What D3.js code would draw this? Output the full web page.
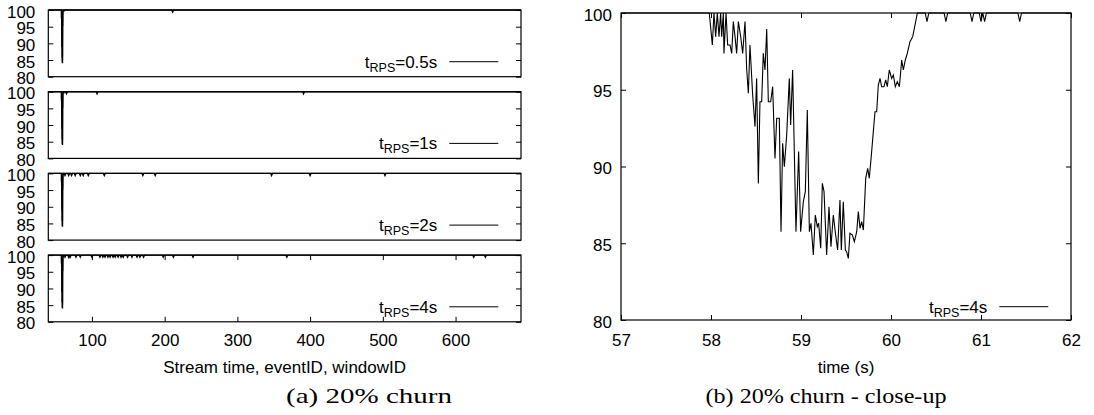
<!DOCTYPE html>
<html><head><meta charset="utf-8">
<script src="https://cdn.jsdelivr.net/npm/d3@7"></script>
<style>
html,body{margin:0;padding:0;background:#fff;}
svg{display:block;}
</style></head>
<body>
<svg id="chart" width="1094" height="415"></svg>
<script>
// ---------- data ----------
// close-up series (t_RPS = 4s): time (s) and availability (%)
const closeTime = [57.00, 57.981, 58.015, 58.033, 58.052, 58.070, 58.089, 58.107, 58.119, 58.137, 58.144, 58.167, 58.185, 58.211, 58.230, 58.248, 58.267, 58.285, 58.304, 58.330, 58.352, 58.378, 58.396, 58.415, 58.433, 58.463, 58.489, 58.507, 58.526, 58.544, 58.563, 58.581, 58.600, 58.619, 58.637, 58.663, 58.685, 58.711, 58.730, 58.759, 58.778, 58.796, 58.815, 58.841, 58.870, 58.885, 58.907, 58.944, 58.974, 58.996, 59.026, 59.048, 59.070, 59.093, 59.111, 59.137, 59.159, 59.181, 59.196, 59.219, 59.237, 59.256, 59.285, 59.311, 59.333, 59.359, 59.385, 59.407, 59.433, 59.448, 59.470, 59.493, 59.507, 59.526, 59.544, 59.570, 59.593, 59.619, 59.637, 59.656, 59.674, 59.693, 59.719, 59.741, 59.759, 59.785, 59.822, 59.841, 59.859, 59.878, 59.896, 59.922, 59.941, 59.959, 59.981, 60.007, 60.026, 60.048, 60.070, 60.093, 60.119, 60.137, 60.159, 60.181, 60.211, 60.241, 60.267, 60.293, 60.38, 60.40, 60.42, 60.59, 60.61, 60.63, 60.88, 60.90, 60.92, 60.98, 61.00, 61.02, 61.04, 61.06, 61.41, 61.43, 61.45, 62.00];
const closeRate = [100, 100, 97.92, 100, 98.46, 100, 98.46, 100, 98.46, 100, 97.37, 100, 97.92, 97.92, 97.37, 99.44, 98.46, 97.37, 99.44, 98.46, 97.37, 99.44, 96.4, 94.77, 97.92, 94.66, 92.6, 95.74, 88.9, 94.22, 94.22, 97.37, 96.29, 98.96, 94.22, 94.22, 95.2, 90.53, 93.14, 93.14, 85.75, 91.51, 89.99, 92.05, 95.74, 92.7, 96.29, 85.75, 90.97, 85.75, 87.71, 88.36, 93.68, 85.75, 86.3, 84.23, 86.84, 86.08, 86.3, 84.67, 88.9, 88.36, 84.23, 87.38, 84.78, 86.84, 85.54, 84.56, 87.82, 84.56, 87.71, 84.56, 84.45, 84.01, 85.65, 85.54, 85.1, 85.75, 87.06, 85.97, 86.41, 85.86, 89.23, 89.88, 89.23, 90.97, 93.57, 93.57, 95.31, 95.74, 95.2, 95.2, 95.64, 95.2, 96.29, 95.74, 95.96, 95.2, 95.53, 95.2, 96.94, 96.29, 96.94, 97.37, 98.13, 98.46, 99.22, 100, 100, 99.44, 100, 100, 99.44, 100, 100, 99.44, 100, 100, 99.44, 100, 99.44, 100, 100, 99.44, 100, 100];

// full-stream panels: labels and positions of short dips at the top
const panelLabels = ["0.5s", "1s", "2s", "4s"];
const dips05 = [211];
const dips1 = [65, 107, 391];
const dips2 = [63, 68, 72, 77, 84, 88, 95, 117, 170, 187, 347, 400, 503];
const dips4 = [63, 68, 70, 78, 84, 100, 111, 115, 118, 122, 125, 129, 132, 136, 140, 143, 149, 155, 162, 166, 171, 198, 212, 239, 368, 625, 641];
const dipRate = 99.4;
const streamStart = 40, streamEnd = 690;

const yTickVals = [80, 85, 90, 95, 100];
const xTickValsLeft = [100, 200, 300, 400, 500, 600];
const xTickValsRight = [57, 58, 59, 60, 61, 62];

// ---------- layout ----------
const svg = d3.select("#chart");
const SANS = "'Liberation Sans', Arial, Helvetica, sans-serif";
const SERIF = "'Liberation Serif', 'Times New Roman', serif";
const FS = 17;

const L = {left: 48.3, right: 521, tops: [10, 91.7, 173.4, 255.1], h: 66.7};
const R = {left: 621, right: 1071, top: 13, bottom: 320};

const xL = d3.scaleLinear().domain([streamStart, streamEnd]).range([L.left, L.right]);
const xR = d3.scaleLinear().domain([57, 62]).range([R.left, R.right]);

const line = (x, y) => d3.line().x(d => x(d[0])).y(d => y(d[1]));

function styleAxis(g) {
  g.select(".domain").remove();
  g.selectAll("line").attr("stroke", "#000").attr("stroke-width", 1);
  g.selectAll("text").attr("font-family", SANS).attr("font-size", FS).attr("fill", "#000");
}

function legend(g, xRight, yLine, label) {
  const t = g.append("text")
    .attr("x", xRight - 22.7 - 49 - 12).attr("y", yLine + 6)
    .attr("text-anchor", "end")
    .attr("font-family", SANS).attr("font-size", FS).attr("fill", "#000");
  t.append("tspan").text("t");
  t.append("tspan").attr("font-size", 12.5).attr("dy", 4).text("RPS");
  t.append("tspan").attr("dy", -4).text("=" + label);
  g.append("line")
    .attr("x1", xRight - 22.7 - 49).attr("x2", xRight - 22.7)
    .attr("y1", yLine).attr("y2", yLine)
    .attr("stroke", "#000").attr("stroke-width", 1);
}

// ---------- left: four stacked panels ----------
const dipSets = [dips05, dips1, dips2, dips4];
const closePts = closeTime.map((t, i) => [t, closeRate[i]]);

dipSets.forEach((dips, i) => {
  const top = L.tops[i];
  const y = d3.scaleLinear().domain([80, 100]).range([top + L.h, top]);
  const g = svg.append("g");

  let pts = [[streamStart, 100]].concat(closePts);
  dips.forEach(d => { pts.push([d - 1.2, 100], [d, dipRate], [d + 1.2, 100]); });
  pts.push([streamEnd, 100]);
  pts.sort((a, b) => a[0] - b[0]);

  const ya = g.append("g").attr("transform", `translate(${L.left},0)`)
    .call(d3.axisLeft(y).tickValues(yTickVals).tickSize(-5).tickPadding(13));
  styleAxis(ya);
  ya.selectAll("text").attr("dy", "0.42em");
  const yb = g.append("g").attr("transform", `translate(${L.right},0)`)
    .call(d3.axisRight(y).tickValues(yTickVals).tickSize(-5).tickFormat(""));
  styleAxis(yb);

  if (i === 3) {
    const xa = g.append("g").attr("transform", `translate(0,${top + L.h})`)
      .call(d3.axisBottom(xL).tickValues(xTickValsLeft).tickSize(-5).tickPadding(12));
    styleAxis(xa);
    const xb = g.append("g").attr("transform", `translate(0,${top})`)
      .call(d3.axisTop(xL).tickValues(xTickValsLeft).tickSize(-5).tickFormat(""));
    styleAxis(xb);
  }

  g.append("path").datum(pts)
    .attr("d", line(xL, y))
    .attr("fill", "none").attr("stroke", "#000").attr("stroke-width", 1.4);

  g.append("rect")
    .attr("x", L.left).attr("y", top).attr("width", L.right - L.left).attr("height", L.h)
    .attr("fill", "none").attr("stroke", "#000").attr("stroke-width", 1.2);

  legend(g, L.right, top + L.h - 15, panelLabels[i]);
});

svg.append("text")
  .attr("x", (L.left + L.right) / 2).attr("y", 373)
  .attr("text-anchor", "middle")
  .attr("font-family", SANS).attr("font-size", FS)
  .text("Stream time, eventID, windowID");

svg.append("text")
  .attr("x", 369).attr("y", 403)
  .attr("text-anchor", "middle")
  .attr("font-family", SERIF).attr("font-size", 22)
  .attr("textLength", 166).attr("lengthAdjust", "spacingAndGlyphs")
  .text("(a) 20% churn");

// ---------- right: close-up ----------
const yR = d3.scaleLinear().domain([80, 100]).range([R.bottom, R.top]);
const gR = svg.append("g");
const yRa = gR.append("g").attr("transform", `translate(${R.left},0)`)
  .call(d3.axisLeft(yR).tickValues(yTickVals).tickSize(-5).tickPadding(9));
styleAxis(yRa);
yRa.selectAll("text").attr("dy", "0.42em");
const yRb = gR.append("g").attr("transform", `translate(${R.right},0)`)
  .call(d3.axisRight(yR).tickValues(yTickVals).tickSize(-5).tickFormat(""));
styleAxis(yRb);
const xRa = gR.append("g").attr("transform", `translate(0,${R.bottom})`)
  .call(d3.axisBottom(xR).tickValues(xTickValsRight).tickFormat(d3.format("d")).tickSize(-5).tickPadding(14));
styleAxis(xRa);
const xRb = gR.append("g").attr("transform", `translate(0,${R.top})`)
  .call(d3.axisTop(xR).tickValues(xTickValsRight).tickSize(-5).tickFormat(""));
styleAxis(xRb);

gR.append("path").datum(closePts)
  .attr("d", line(xR, yR))
  .attr("fill", "none").attr("stroke", "#000").attr("stroke-width", 1.1);

gR.append("rect")
  .attr("x", R.left).attr("y", R.top).attr("width", R.right - R.left).attr("height", R.bottom - R.top)
  .attr("fill", "none").attr("stroke", "#000").attr("stroke-width", 1.2);

legend(gR, R.right, R.bottom - 13.3, "4s");

svg.append("text")
  .attr("x", (R.left + R.right) / 2).attr("y", 373)
  .attr("text-anchor", "middle")
  .attr("font-family", SANS).attr("font-size", FS)
  .text("time (s)");

svg.append("text")
  .attr("x", 826).attr("y", 403)
  .attr("text-anchor", "middle")
  .attr("font-family", SERIF).attr("font-size", 22)
  .attr("textLength", 241).attr("lengthAdjust", "spacingAndGlyphs")
  .text("(b) 20% churn - close-up");
</script>
</body></html>
